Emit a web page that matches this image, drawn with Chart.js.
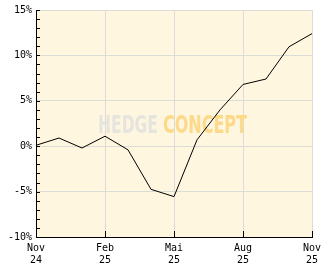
<!DOCTYPE html>
<html>
<head>
  <meta charset="UTF-8">
  <title>Performance</title>
  <script src="https://cdn.jsdelivr.net/npm/chart.js@4/dist/chart.umd.min.js"></script>
  <style>
    body { margin: 0; background: #fff; }
    #wrap { width: 332px; height: 269px; }
  </style>
</head>
<body>
  <div id="wrap"><canvas id="perfChart"></canvas></div>

  <script>
    // monthly points, Nov 24 .. Nov 25
    const months = ["Nov", "Dez", "Jan", "Feb", "Mär", "Apr", "Mai", "Jun", "Jul", "Aug", "Sep", "Okt", "Nov"];
    const years = ["24", "24", "25", "25", "25", "25", "25", "25", "25", "25", "25", "25", "25"];
    const perf = [0.1, 0.9, -0.2, 1.1, -0.4, -4.75, -5.55, 0.7, 4.0, 6.8, 7.4, 10.95, 12.4];
    const yTicks = [-10, -5, 0, 5, 10, 15];

    const gridColor = '#dcdcd6';

    // cream plot area + watermark + inner tick marks
    const plotDeco = {
      id: 'plotDeco',
      beforeDraw(chart) {
        const { ctx, chartArea: a } = chart;
        ctx.save();
        ctx.fillStyle = '#fef6de';
        ctx.fillRect(a.left, a.top, a.right - a.left, a.bottom - a.top);
        ctx.restore();
      },
      beforeDatasetsDraw(chart) {
        const { ctx } = chart;
        ctx.save();
        ctx.font = 'bold 25px "DejaVu Sans Condensed", "DejaVu Sans"';
        ctx.textBaseline = 'alphabetic';
        const drawWord = (txt, x, w, color) => {
          const m = ctx.measureText(txt).width;
          ctx.save();
          ctx.translate(x, 133);
          ctx.scale(w / m, 1);
          ctx.fillStyle = color;
          ctx.fillText(txt, 0, 0);
          ctx.restore();
        };
        drawWord('HEDGE', 98, 60, '#e6e4de');
        drawWord('CONCEPT', 163, 84, '#fdd98a');
        ctx.restore();
      },
      afterDatasetsDraw(chart) {
        const { ctx, chartArea: a } = chart;
        const xs = chart.scales.x, ys = chart.scales.y;
        ctx.save();
        ctx.strokeStyle = '#000';
        ctx.lineWidth = 1;
        ctx.beginPath();
        ys.ticks.forEach((t, i) => {
          const y = Math.round(ys.getPixelForTick(i)) + 0.5;
          ctx.moveTo(a.left, y);
          ctx.lineTo(a.left + 4, y);
        });
        xs.ticks.forEach((t, i) => {
          if (i % 3 !== 0) return;
          const x = Math.round(xs.getPixelForTick(i)) + 0.5;
          ctx.moveTo(x, a.bottom);
          ctx.lineTo(x, a.bottom - 6);
        });
        ctx.stroke();
        ctx.restore();
      }
    };

    new Chart(document.getElementById('perfChart').getContext('2d'), {
      type: 'line',
      data: {
        labels: months.map((m, i) => [m, years[i]]),
        datasets: [{
          data: perf,
          borderColor: '#000',
          borderWidth: 1,
          pointRadius: 0,
          tension: 0,
          fill: false
        }]
      },
      options: {
        responsive: true,
        maintainAspectRatio: false,
        animation: false,
        layout: { padding: { top: 10, right: 20, left: 0, bottom: 0 } },
        plugins: {
          legend: { display: false },
          tooltip: { enabled: false }
        },
        scales: {
          x: {
            offset: false,
            afterFit(s) { s.height = 32; },
            grid: {
              drawTicks: false,
              color: c => (c.index % 3 === 0 ? gridColor : 'rgba(0,0,0,0)')
            },
            border: { color: '#000', width: 1 },
            ticks: {
              autoSkip: false,
              maxRotation: 0,
              padding: 5,
              color: '#000',
              font: { family: '"DejaVu Sans Mono"', size: 10 },
              callback(v, i) { return i % 3 === 0 ? [months[i], years[i]] : ''; }
            }
          },
          y: {
            min: yTicks[0],
            max: yTicks[yTicks.length - 1],
            afterFit(s) { s.width = 36; },
            grid: {
              drawTicks: false,
              color: c => (yTicks.includes(c.tick.value) ? gridColor : 'rgba(0,0,0,0)')
            },
            border: { color: '#000', width: 1 },
            ticks: {
              stepSize: 1,
              autoSkip: false,
              padding: 4,
              color: '#000',
              font: { family: '"DejaVu Sans Mono"', size: 10 },
              callback: v => (yTicks.includes(v) ? v + '%' : '')
            }
          }
        }
      },
      plugins: [plotDeco]
    });
  </script>
</body>
</html>
